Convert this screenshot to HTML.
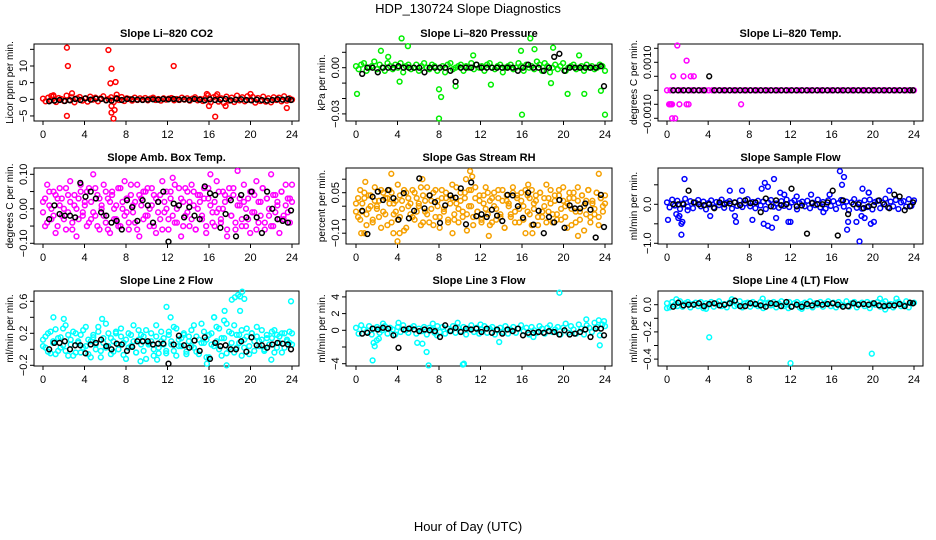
<!DOCTYPE html>
<html><head><meta charset="utf-8">
<style>
html,body{margin:0;padding:0;background:#fff;}
svg{display:block;font-family:"Liberation Sans",Arial,sans-serif;}
</style></head>
<body>
<svg id="chart" width="936" height="540" viewBox="0 0 936 540" xmlns="http://www.w3.org/2000/svg">
<text x="468" y="13" text-anchor="middle" font-size="13">HDP_130724  Slope Diagnostics</text>
<text x="468" y="531" text-anchor="middle" font-size="13">Hour of Day (UTC)</text>
</svg>
<script>
// ---- shared x data ----
const blackHours=[0.6,1.1,1.6,2.1,2.6,3.1,3.6,4.1,4.6,5.1,5.6,6.1,6.6,7.1,7.6,8.1,8.6,9.1,9.6,10.1,10.6,11.1,11.6,12.1,12.6,13.1,13.6,14.1,14.6,15.1,15.6,16.1,16.6,17.1,17.6,18.1,18.6,19.1,19.6,20.1,20.6,21.1,21.6,22.1,22.6,23.1,23.6,23.9];
const xTicks=[0,4,8,12,16,20,24];

// ---- CO2 ----
const co2Band=[0.2,-0.6,0.5,-0.3,0.9,-0.8,0.4,0.1,-0.5,1.1,-0.2,0.6,-0.9,0.3,0.7,-0.4,0.2,-0.7,0.8,-0.1,0.5,-0.6,0.3,0.9,-0.3,0.1,0.6,-0.8,0.4,-0.2,0.7,-0.5,0.3,0.1,-0.4,0.5,-0.2,0.3,-0.1,0.4,-0.3,0.2,0.5,-0.2,0.1,-0.4,0.3,-0.1,0.2,0.4,-0.3,0.1,-0.2,0.5,-0.1,0.3,-0.4,0.2,0.6,-0.3,0.1,-0.5,0.4,1.2,-0.9,0.6,1.0,-0.7,0.3,-1.1,0.8,-0.4,0.5,-0.8,1.1,-0.3,0.6,-0.6,0.9,-0.2,0.7,-1.0,0.4,-0.5,0.8,-0.7,0.3,-0.9,0.6,-0.2,0.5,-0.6,0.9,-0.4,0.3,-0.1];
const co2OutX=[2.3,2.4,2.3,2.8,6.3,6.6,6.5,7.0,7.1,6.6,6.8,6.9,6.6,12.6,16.6,16.0,17.6,23.5,20.0,15.8,16.8,1.0,0.8];
const co2OutY=[15.5,10,-5,1.8,14.8,9.2,4.8,5.2,1.4,-4,-5.8,-3.2,-2,10,-5.2,-2,-2,-2.6,1.6,1.6,1.5,1.2,1.0];
const co2Black=[-0.6,-0.4,-0.2,-0.5,-0.3,0.1,-0.2,0.3,-0.1,0.2,0.1,-0.3,-0.4,0.2,-0.2,0.1,0.0,-0.1,-0.2,-0.1,0.0,-0.1,0.1,0.0,0.1,-0.1,0.0,-0.2,0.1,-0.1,-0.3,0.0,-0.2,-0.1,0.1,-0.3,-0.1,0.0,-0.2,-0.3,-0.1,-0.2,-0.4,-0.2,0.0,-0.1,0.1,-0.2];

// ---- Pressure ----
const presBand=[.001,-.001,.002,.003,-.002,0,.001,.004,-.001,.002,0,-.002,.003,.001,-.001,.002,0,.003,-.003,.001,.002,-.001,0,.002,-.002,.001,.003,0,-.001,.002,.001,-.002,0,.001,-.003,.002,.003,-.001,0,.001,.002,-.002,.001,0,.003,-.001,.002,0,.001,-.002,.002,.003,0,-.001,.001,.002,-.003,0,.001,.002,-.001,0,.003,.001,-.002,.002,0,.001,-.001,.004,.002,-.002,.003,.001,-.003,0,.002,-.001,.001,.003,-.002,0,.001,.002,-.001,0,.001,-.002,.002,0,.001,-.001,0,.002,.001,-.002];
const presOutX=[0.1,4.4,5.0,2.4,4.2,8.0,16.0,24.0,8.0,8.2,16.8,17.2,19.0,22.0,20.4,18.8,13.0,9.6,3.1,11.3,21.5,15.9,23.6];
const presOutY=[-.017,.019,.014,.011,-.009,-.033,-.0305,-.0305,-.014,-.019,.019,.012,.013,-.017,-.017,-.010,-.011,-.012,.007,.008,.008,.011,-.015];
const presBlack=[-.004,0,0,-.003,0,0,0,.001,0,0,0,0,-.003,0,0,0,0,-.002,-.009,0,0,0,.002,0,0,0,0,0,0,0,-.002,0,.002,0,0,-.002,0,.007,.009,-.002,0,0,0,0,0,0,.001,-.012];

// ---- Li-820 Temp ----
const tempBand=[0,0,0,0,0,0,0,0,0,0,0,0,0,0,0,0,0,0,0,0,0,0,0,0,0,0,0,0,0,0,0,0,0,0,0,0,0,0,0,0,0,0,0,0,0,0,0,0,0,0,0,0,0,0,0,0,0,0,0,0,0,0,0,0,0,0,0,0,0,0,0,0];
const tempOutX=[1.0,1.9,0.6,1.6,2.3,2.6,0.3,0.5,1.2,1.9,2.1,7.2,0.5,0.8,0.2,0.4];
const tempOutY=[.0016,.00106,.0005,.0005,.0005,.0005,-.0005,-.0005,-.0005,-.0005,-.0005,-.0005,-.001,-.001,-.0005,-.0005];
const tempBlack=[0,0,0,0,0,0,0,.0005,0,0,0,0,0,0,0,0,0,0,0,0,0,0,0,0,0,0,0,0,0,0,0,0,0,0,0,0,0,0,0,0,0,0,0,0,0,0,0,0];

// ---- Amb box temp ----
const ambBandA=[.02,-.05,.07,.01,-.03,.05,-.07,.03,.06,-.02,.00,-.06,.04,.08,-.04,.01,-.08,.03,.05,-.01,.02,-.05,.06,-.03,.10,-.02,.04,-.06,.01,.07,-.04,.03,-.07,.05,.00,-.03,.06,-.05,.02,.08,-.01,-.06,.04,.01,-.04,.07,-.08,.03,.05,-.02,.06,-.05,.01,.04,-.07,.02,-.03,.08,-.01,.05,-.06,.03,.09,-.04,.00,.06,-.08,.02,-.02,.05,-.05,.07,.01,-.06,.04,.02,-.03,.06,-.07,.03,.10,-.01,-.05,.08,.00,-.04,.05,.02,-.08,.06,-.02,.04,-.06,.11,.01,-.03,.07,-.05,.03,-.07,.05,-.01,.08,-.04,.02,.06,-.06,.03,-.02,.10,-.05,.04,.01,-.07,.05,-.03,.07,-.01,.03,.07];
const ambBandB=[-.01,.03,-.04,.05,.00,-.02,.04,-.05,.01,.03,-.03,.06,-.01,.02,-.06,.04,.00,-.03,.07,-.02,.01,.05,-.04,.02,-.01,.06,-.05,.03,.00,-.02,.05,-.06,.02,.04,-.03,.01,-.05,.06,.00,-.02,.03,-.04,.07,-.01,.02,-.06,.04,.01,-.03,.05,-.02,.00,.06,-.05,.03,-.01,.04,-.06,.02,.00,-.03,.05,-.02,.07,-.04,.01,.03,-.05,.06,-.01,.02,-.03,.05,-.06,.00,.04,-.02,.03,-.05,.06,.01,-.04,.02,-.01,.05,-.03,.00,.04,-.06,.03,-.02,.06,-.04,.01,.03,-.05,.02,.00,-.03,.05,-.01,.04,-.06,.02,-.02,.06,-.04,.03,.00,-.05,.04,-.01,.02,-.03,.05,-.02,.01,.03,-.04,.02];
const ambBlack=[-.03,.01,-.015,-.02,-.02,-.025,.075,.035,.05,.03,-.01,-.02,-.04,-.035,-.06,.025,.005,-.035,.025,.01,-.04,.02,.05,-.095,.015,.01,-.025,.005,-.02,-.03,.065,.045,.04,-.055,-.015,.025,-.08,.04,-.025,.05,-.025,-.07,.05,0,-.03,-.035,-.04,-.005];

// ---- Gas stream RH ----
const rhBandA=[.01,-.04,.06,-.02,.03,-.07,.04,.00,-.05,.07,-.01,.02,-.08,.05,-.03,.03,.06,-.06,.01,-.02,.08,-.04,.02,-.09,.05,.00,-.03,.06,-.05,.03,.01,-.07,.04,-.02,.07,-.06,.02,.05,-.04,.00,-.08,.06,-.01,.03,-.05,.04,.08,-.03,.01,-.06,.05,-.02,.03,-.09,.06,.00,-.04,.07,-.02,.02,-.06,.04,-.01,.05,-.07,.03,.00,-.05,.06,-.03,.02,-.08,.04,.01,-.04,.07,-.02,.03,-.06,.05,.00,-.10,.04,-.03,.06,-.01,.02,-.07,.05,-.04,.03,.08,-.02,.01,-.06,.04,-.03,.06,-.05,.02,.00,-.08,.05,-.01,.03,-.06,.07,-.02,.04,-.09,.02,.06,-.04,.01,-.03,.05,-.07,.03,.00,.04];
const rhBandB=[-.02,.03,-.05,.01,.05,-.03,-.01,.04,-.06,.02,.00,-.04,.06,-.02,.03,-.07,.01,.05,-.03,.02,-.05,.04,-.01,.06,-.08,.03,.01,-.04,.05,-.02,.00,.07,-.06,.02,-.03,.04,-.01,-.07,.06,.02,-.04,.03,-.02,.05,-.06,.01,.03,-.05,.07,-.01,.02,-.04,.05,-.03,.00,.06,-.07,.03,-.02,.04,-.05,.01,.07,-.03,.02,-.06,.05,-.01,.03,-.04,.06,-.08,.02,.00,-.03,.05,-.06,.04,-.01,.02,-.05,.06,-.02,.03,-.07,.01,.04,-.04,.05,-.02,.00,-.06,.03,.06,-.03,.02,-.05,.04,-.01,.07,-.04,.01,.03,-.07,.05,-.02,.02,-.05,.04,.00,-.03,.06,-.06,.02,-.01,.05,-.04,.03,-.02,.01];
const rhOutX=[3.4,0.9,10.6,11.0,11.2,6.4,16.6,23.4,4.0,4.2,9.3,12.8,21.4,17.0,0.5,0.8,3.6];
const rhOutY=[.12,.09,.10,.13,.11,.10,.08,.12,-.13,-.10,-.10,-.11,-.11,-.10,-.10,-.10,-.10];
const rhBlack=[-.017,-.103,.035,.054,.023,.06,.03,-.05,.048,-.045,-.017,.103,-.008,.04,.015,-.062,.003,.04,.032,.066,-.067,.088,-.037,-.03,-.04,-.013,-.035,-.055,.042,.04,0,-.043,.05,-.068,-.017,-.1,-.04,-.06,.023,-.08,.003,-.008,-.008,.01,-.013,-.116,.042,-.077];

// ---- Sample flow ----
const sfBand=[.05,-.08,.12,-.03,.09,-.12,.02,.14,-.06,.08,-.1,.04,.11,-.05,.07,-.13,.03,.1,-.08,.06,-.02,.12,-.09,.04,.08,-.11,.05,-.04,.1,-.07,.02,.13,-.05,.06,-.1,.09,-.03,.07,-.12,.04,.11,-.06,.02,-.09,.08,-.04,.12,-.07,.05,.1,-.13,.03,.07,-.05,.09,-.1,.04,-.02,.12,-.08,.06,-.11,.1,-.04,.08,-.12,.03,.11,-.06,.07,-.15,.05,.13,-.09,.04,-.11,.1,-.07,.12,-.13,.06,.09,-.1,.04,.14,-.08,.07,-.05,.11,-.12,.05,.08,-.06,.13,-.04,.1];
const sfOutX=[0.1,1.4,1.7,1.4,1.2,0.9,1.1,1.5,2.0,4.2,6.1,6.6,6.7,7.3,8.3,9.2,9.5,9.8,10.4,9.4,9.8,10.6,10.2,11.0,11.8,12.0,15.2,15.8,16.8,17.0,17.2,17.6,17.5,18.4,18.7,19.0,19.2,19.6,19.8,20.1,21.6,18.9,11.4,12.6,14.0,19.6];
const sfOutY=[-.4,-.78,.65,-.5,-.3,-.25,-.35,-.45,-.15,-.3,.35,-.3,-.45,.35,-.4,.4,.55,.45,.65,-.5,-.55,-.35,-.6,.3,-.45,-.45,-.2,.25,.85,.5,.7,-.45,-.65,-.45,-.95,.4,-.35,.3,-.5,-.45,.35,-.3,.25,.2,.25,.3];
const sfBlack=[0,0,0,.35,.05,0,-.02,0,-.1,.05,0,.02,.05,-.02,.1,.03,.05,-.2,.15,-.05,.1,-.02,0,.4,-.05,-.03,-.75,.03,0,0,.05,.35,-.8,.1,-.25,0,0,-.1,-.05,-.02,.1,0,-.1,.25,.2,-.15,-.05,.05];

// ---- Line 2 flow ----
const l2BandA=[.12,.02,.2,-.05,.1,.25,-.02,.15,.05,.3,-.08,.12,.22,-.04,.08,.18,.02,.28,-.06,.1,.15,.0,.22,-.1,.08,.32,.04,.14,-.03,.2,.06,.26,-.07,.12,.02,.18,.1,-.04,.24,.06,.16,-.12,.08,.2,.0,.3,-.05,.1,.14,-.02,.22,.06,.28,-.08,.12,.04,.18,-.03,.1,.24,.02,.16,-.06,.32,.08,.12,-.1,.2,.04,.28,.0,.14,.36,-.05,.22,.08,.3,.02,.18,-.08,.12,.26,.04,.2,-.02,.16,.1,.24,.0,.14,.06,.22,-.04,.18,.08,.2,.02,.12,.22,.06];
const l2BandB=[.04,.16,-.03,.22,.08,-.06,.14,.02,.26,-.02,.18,.06,-.08,.2,.1,-.04,.24,.04,.12,-.1,.18,.06,.28,-.02,.14,.02,.2,-.06,.1,.22,.0,.16,.08,-.12,.2,.04,.3,-.04,.12,.18,-.02,.24,.06,.1,-.08,.16,.02,.22,.06,-.05,.18,.1,-.02,.26,.04,.14,.2,-.06,.16,.04,.3,-.03,.12,.08,.22,-.1,.18,.06,.4,.1,.26,-.08,.14,.32,.02,.2,-.04,.18,.08,.24,.02,.16,-.06,.2,.1,.28,.04,.12,-.02,.18,.06,.14,.24,.02,.16,-.04,.2,.1,.08,.2];
const l2OutX=[18.2,18.5,18.8,19.2,19.4,19.0,23.9,11.9,1.0,2.0,5.7,17.5,19.0,17.7,22.0,11.0,9.4,12.3,16.5,15.8];
const l2OutY=[.62,.65,.68,.72,.63,.66,.6,.53,.4,.38,.38,.48,.48,-.2,-.13,-.13,-.15,.4,.4,-.18];
const l2Black=[0,.08,.08,.1,0,.05,.05,-.05,.06,.08,.12,.04,0,.07,.06,-.02,.03,.1,.1,.1,.06,.07,.07,-.18,.06,.17,.05,.02,.11,-.02,.15,-.12,.08,.04,.05,0,0,.1,-.03,.15,.05,.05,.02,.06,.08,.07,.06,0];

// ---- Line 3 flow ----
const l3Band=[.3,-.4,.6,.1,-.2,.5,-.5,.2,.4,-.3,.0,.5,-.4,.3,.1,-.5,.4,-.2,.6,.0,-.3,.3,.5,-.4,.2,-.1,.4,-.5,.3,.1,-.3,.5,-.2,.4,-.4,.2,.0,.5,-.3,.3,-.1,.4,-.5,.2,.6,-.2,.3,-.4,.1,.5,-.3,.2,.4,-.5,.0,.3,-.2,.5,-.4,.1,.4,-.3,.2,.6,-.1,.3,-.5,.4,.0,-.3,.5,.2,-.4,.3,.6,-.2,.1,.4,-.5,.3,.8,-.3,.5,.1,-.4,.7,.2,-.5,.6,.3,-.2,.9,.4,-.6,.7,.5];
const l3OutX=[1.6,1.8,2.0,1.7,2.2,2.6,4.1,5.9,6.4,6.8,7.0,7.4,9.8,10.3,10.4,13.8,12.0,19.6,22.2,23.5,23.9,23.4,17.1,7.8];
const l3OutY=[-3.6,-1.9,-1.2,-1.5,-1,.8,.9,-1.5,-1.6,-2.6,-4.2,.8,.9,-4.1,-4.0,-1.4,.7,4.5,1.3,-1.8,1.1,1.2,-.8,-.6];
const l3Black=[-.4,-.3,.2,.1,.3,.2,-.6,-2.1,.1,.2,.1,-.1,.1,0,-.1,-.8,.6,-.1,.3,-.2,.2,.1,.2,-.2,.2,-.3,.1,-.4,.1,-.1,.2,-.6,-.3,-.3,-.2,-.3,-.1,-.2,-.5,0,-.5,-.4,-.2,.1,-.8,.2,.2,-.6];

// ---- Line 4 flow ----
const l4Band=[.01,-.02,.02,0,-.01,.025,-.015,.01,.02,-.02,.005,.015,-.01,.02,-.025,.01,0,.02,-.015,.01,.025,-.01,.005,-.02,.015,.02,-.01,0,.025,-.02,.01,.015,-.015,.02,0,-.01,.02,-.025,.01,.015,-.005,.02,-.02,.01,.025,-.01,0,.02,-.015,.01,.02,-.02,.005,.015,-.01,.025,-.02,.01,0,.02,-.015,.01,.025,-.01,.015,-.02,.02,0,-.01,.025,-.015,.01,.02,-.02,.005,.015,-.01,.02,-.025,.01,0,.02,-.015,.01,.025,-.01,.005,-.02,.015,.02,-.01,0,.025,-.02,.01,.015];
const l4OutX=[0,0.9,4.1,6.3,9.3,12.0,19.9,20.7,22.3,21.2,13.1,11.8,3.8];
const l4OutY=[-.025,.04,-.24,.04,.045,-.43,-.36,.045,.045,-.035,-.03,-.025,-.03];
const l4Black=[-.015,.015,-.005,0,0,.01,-.01,.005,.01,-.005,0,.01,.03,-.01,-.01,.01,.005,-.005,-.015,.01,.005,-.01,.02,-.015,0,-.015,.005,-.005,.01,0,.005,.01,0,-.015,-.01,.01,0,.005,0,.01,-.005,-.01,-.005,-.005,.005,-.01,.015,.01];

// ---- layout (positions only) ----
const cols=[{l:34,r:299,x0:43,x24:292},{l:346,r:612,x0:356,x24:605},{l:658,r:923,x0:667,x24:914}];
const rows=[{t:44,b:121},{t:168,b:244},{t:291,b:366}];

const NS="http://www.w3.org/2000/svg";
const svg=document.getElementById('chart');
function mk(tag,attrs,parent){const e=document.createElementNS(NS,tag);for(const k in attrs)e.setAttribute(k,attrs[k]);(parent||svg).appendChild(e);return e;}

function panel(cfg){
  const c=cols[cfg.col],r=rows[cfg.row];
  const g=mk('g',{});
  
  
  const xs=h=>c.x0+h/24*(c.x24-c.x0);
  const ys=v=>cfg.zeroY-v*cfg.ppu;
  const t=mk('text',{x:(c.l+c.r)/2,y:r.t-7,'text-anchor':'middle','font-size':11,'font-weight':'bold'},g);
  t.textContent=cfg.title;
  
  
  const box=mk('rect',{x:c.l,y:r.t,width:c.r-c.l,height:r.b-r.t,fill:'none',stroke:'#000','stroke-width':1},g);
  
  
  // x axis
  const xa=mk('g',{},g);
  
  
  mk('line',{x1:xs(0),x2:xs(24),y1:r.b,y2:r.b,stroke:'#000'},xa);
  xTicks.forEach(h=>{
    mk('line',{x1:xs(h),x2:xs(h),y1:r.b,y2:r.b+4,stroke:'#000'},xa);
    const tl=mk('text',{x:xs(h),y:r.b+17,'text-anchor':'middle','font-size':11},xa);
    tl.textContent=h;
    
    
  });
  // y axis
  const ya=mk('g',{},g);
  
  
  const yt=cfg.yTicks;
  mk('line',{x1:c.l,x2:c.l,y1:ys(yt[0]),y2:ys(yt[yt.length-1]),stroke:'#000'},ya);
  yt.forEach(v=>mk('line',{x1:c.l-4,x2:c.l,y1:ys(v),y2:ys(v),stroke:'#000'},ya));
  cfg.yLabels.forEach((v,i)=>{
    const y=ys(v),x=c.l-7;
    const tl=mk('text',{x:x,y:y,transform:`rotate(-90 ${x} ${y})`,'text-anchor':'middle','font-size':11},ya);
    tl.textContent=cfg.yLabelText[i];
    
    
  });
  const yx=c.l-21,yy=(r.t+r.b)/2;
  const ylab=mk('text',{x:yx,y:yy,transform:`rotate(-90 ${yx} ${yy})`,'text-anchor':'middle','font-size':10},g);
  ylab.textContent=cfg.ylab;
  
  
  // points
  const dg=mk('g',{fill:'none','stroke-width':1.5},g);
  
  
  function pt(h,v,col,nm){
    const p=mk('circle',{cx:xs(h).toFixed(1),cy:ys(v).toFixed(1),r:2.4,stroke:col},dg);
    
    
  }
  cfg.bands.forEach(b=>b.forEach((v,i)=>pt(i*24/(b.length-1),v,cfg.color,'point')));
  cfg.outX.forEach((h,i)=>pt(h,cfg.outY[i],cfg.color,'outlier-point'));
  cfg.black.forEach((v,i)=>pt(blackHours[i],v,'#000','hourly-point'));
}

panel({name:'co2',title:'Slope Li\u2013820 CO2',ylab:'Licor ppm per min.',col:0,row:0,zeroY:99.3,ppu:3.33,yTicks:[-5,0,5,10,15],yLabels:[-5,0,5,10],yLabelText:['\u22125','0','5','10'],color:'#ff0000',bands:[co2Band],outX:co2OutX,outY:co2OutY,black:co2Black});
panel({name:'pressure',title:'Slope Li\u2013820 Pressure',ylab:'kPa per min.',col:1,row:0,zeroY:67.7,ppu:1540,yTicks:[-0.03,-0.02,-0.01,0,0.01],yLabels:[-0.03,0],yLabelText:['\u22120.03','0.00'],color:'#00ee00',bands:[presBand],outX:presOutX,outY:presOutY,black:presBlack});
panel({name:'li820-temp',title:'Slope Li\u2013820 Temp.',ylab:'degrees C per min.',col:2,row:0,zeroY:90.3,ppu:28000,yTicks:[-0.001,-0.0005,0,0.0005,0.001,0.0015],yLabels:[-0.00085,0.001],yLabelText:['\u22120.0010','0.0010'],color:'#ff00ff',bands:[tempBand],outX:tempOutX,outY:tempOutY,black:tempBlack});
panel({name:'amb-box-temp',title:'Slope Amb. Box Temp.',ylab:'degrees C per min.',col:0,row:1,zeroY:208.8,ppu:345,yTicks:[-0.1,-0.05,0,0.05,0.1],yLabels:[-0.1,0,0.1],yLabelText:['\u22120.10','0.00','0.10'],color:'#ff00ff',bands:[ambBandA,ambBandB],outX:[],outY:[],black:ambBlack});
panel({name:'gas-stream-rh',title:'Slope Gas Stream RH',ylab:'percent per min.',col:1,row:1,zeroY:206.2,ppu:270,yTicks:[-0.1,-0.05,0,0.05,0.1],yLabels:[-0.1,0.05],yLabelText:['\u22120.10','0.05'],color:'#f5a000',bands:[rhBandA,rhBandB],outX:rhOutX,outY:rhOutY,black:rhBlack});
panel({name:'sample-flow',title:'Slope Sample Flow',ylab:'ml/min per min.',col:2,row:1,zeroY:204.3,ppu:39,yTicks:[-1,-0.5,0,0.5],yLabels:[-1,0],yLabelText:['\u22121.0','0.0'],color:'#0000ff',bands:[sfBand],outX:sfOutX,outY:sfOutY,black:sfBlack});
panel({name:'line2-flow',title:'Slope Line 2 Flow',ylab:'ml/min per min.',col:0,row:2,zeroY:349.3,ppu:80,yTicks:[-0.2,0,0.2,0.4,0.6],yLabels:[-0.2,0.2,0.6],yLabelText:['\u22120.2','0.2','0.6'],color:'#00ffff',bands:[l2BandA,l2BandB],outX:l2OutX,outY:l2OutY,black:l2Black});
panel({name:'line3-flow',title:'Slope Line 3 Flow',ylab:'ml/min per min.',col:1,row:2,zeroY:330.3,ppu:8.35,yTicks:[-4,-2,0,2,4],yLabels:[-4,0,2,4],yLabelText:['\u22124','0','2','4'],color:'#00ffff',bands:[l3Band],outX:l3OutX,outY:l3OutY,black:l3Black});
panel({name:'line4-flow',title:'Slope Line 4 (LT) Flow',ylab:'ml/min per min.',col:2,row:2,zeroY:304.7,ppu:136,yTicks:[-0.4,-0.3,-0.2,-0.1,0],yLabels:[-0.4,-0.2,0],yLabelText:['\u22120.4','\u22120.2','0.0'],color:'#00ffff',bands:[l4Band],outX:l4OutX,outY:l4OutY,black:l4Black});
</script>
</body></html>
